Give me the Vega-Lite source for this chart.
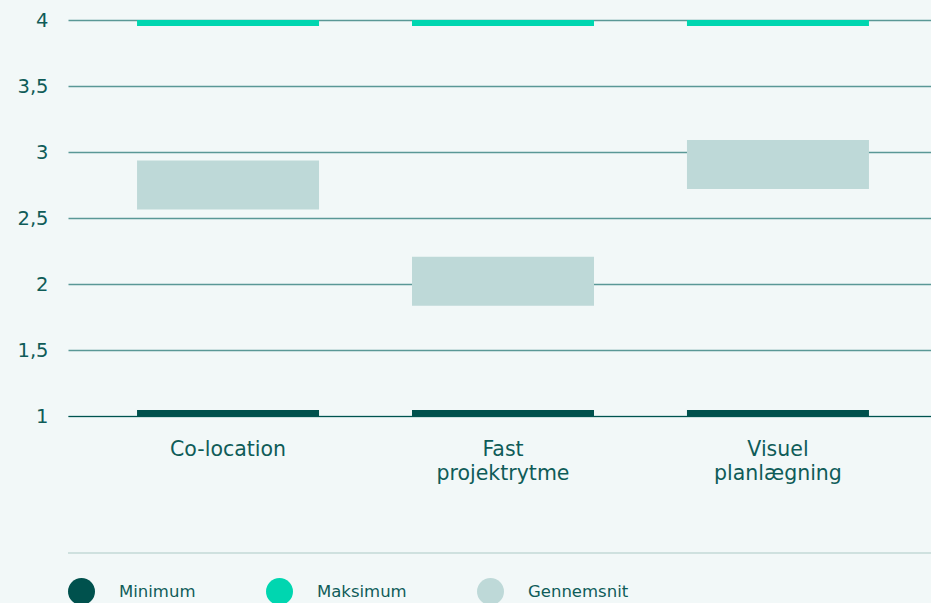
{
  "$schema": "https://vega.github.io/schema/vega-lite/v6.json",
  "autosize": "none",
  "width": 863,
  "height": 396,
  "padding": {"left": 68, "top": 20, "right": 0, "bottom": 187},
  "background": "#f2f8f8",
  "config": {
    "view": {"stroke": null},
    "font": "DejaVu Sans"
  },
  "data": {
    "values": [
      {"metode": "Co-location", "serie": "Minimum", "score": 1},
      {"metode": "Co-location", "serie": "Maksimum", "score": 4},
      {"metode": "Co-location", "serie": "Gennemsnit", "score": 2.75},
      {"metode": "Fast projektrytme", "serie": "Minimum", "score": 1},
      {"metode": "Fast projektrytme", "serie": "Maksimum", "score": 4},
      {"metode": "Fast projektrytme", "serie": "Gennemsnit", "score": 2.02},
      {"metode": "Visuel planlægning", "serie": "Minimum", "score": 1},
      {"metode": "Visuel planlægning", "serie": "Maksimum", "score": 4},
      {"metode": "Visuel planlægning", "serie": "Gennemsnit", "score": 2.905}
    ]
  },
  "encoding": {
    "x": {
      "field": "metode",
      "type": "nominal",
      "sort": null,
      "scale": {"type": "band", "range": [0, 870], "paddingInner": 0.338, "paddingOuter": 0.251},
      "axis": {
        "title": null,
        "labelAngle": 0,
        "labelExpr": "split(datum.label, ' ')",
        "labelFontSize": 20.5,
        "labelColor": "#0f5c58",
        "labelPadding": 23,
        "labelLineHeight": 24,
        "labelBaseline": "top",
        "ticks": false,
        "domain": true,
        "domainColor": "#00534f",
        "domainWidth": 1.2,
        "grid": false
      }
    }
  },
  "layer": [
    {
      "mark": {"type": "rule", "color": "#cfe0df", "strokeWidth": 1.5},
      "encoding": {
        "x": null,
        "y": {"datum": -0.038, "type": "quantitative"}
      }
    },
    {
      "transform": [{"filter": "datum.serie === 'Gennemsnit'"}],
      "mark": {"type": "tick", "size": 182, "thickness": 49, "opacity": 1},
      "encoding": {
        "y": {
          "field": "score",
          "type": "quantitative",
          "scale": {"domain": [1, 4], "nice": false, "zero": false},
          "axis": {
            "title": null,
            "values": [1, 1.5, 2, 2.5, 3, 3.5, 4],
            "format": "~g",
            "labelExpr": "replace(datum.label, '.', ',')",
            "labelFontSize": 19.5,
            "labelColor": "#0f5c58",
            "labelPadding": 20,
            "ticks": false,
            "domain": false,
            "grid": true,
            "gridColor": "#5a9896",
            "gridWidth": 1.4
          }
        },
        "color": {
          "field": "serie",
          "type": "nominal",
          "scale": {
            "domain": ["Minimum", "Maksimum", "Gennemsnit"],
            "range": ["#00514d", "#00d6b0", "#bed9d8"]
          },
          "legend": {
            "title": null,
            "orient": "none",
            "legendX": 0,
            "legendY": 558,
            "direction": "horizontal",
            "symbolType": "circle",
            "symbolSize": 729,
            "symbolStrokeWidth": 0,
            "symbolOpacity": 1,
            "labelFontSize": 16.5,
            "labelColor": "#0f5c58",
            "labelOffset": 24,
            "columnPadding": 70
          }
        }
      }
    },
    {
      "transform": [{"filter": "datum.serie === 'Minimum'"}],
      "mark": {"type": "tick", "size": 182, "thickness": 6, "yOffset": -3, "opacity": 1},
      "encoding": {
        "y": {"field": "score", "type": "quantitative"},
        "color": {"field": "serie", "type": "nominal"}
      }
    },
    {
      "transform": [{"filter": "datum.serie === 'Maksimum'"}],
      "mark": {"type": "tick", "size": 182, "thickness": 6, "yOffset": 3, "opacity": 1},
      "encoding": {
        "y": {"field": "score", "type": "quantitative"},
        "color": {"field": "serie", "type": "nominal"}
      }
    }
  ]
}
